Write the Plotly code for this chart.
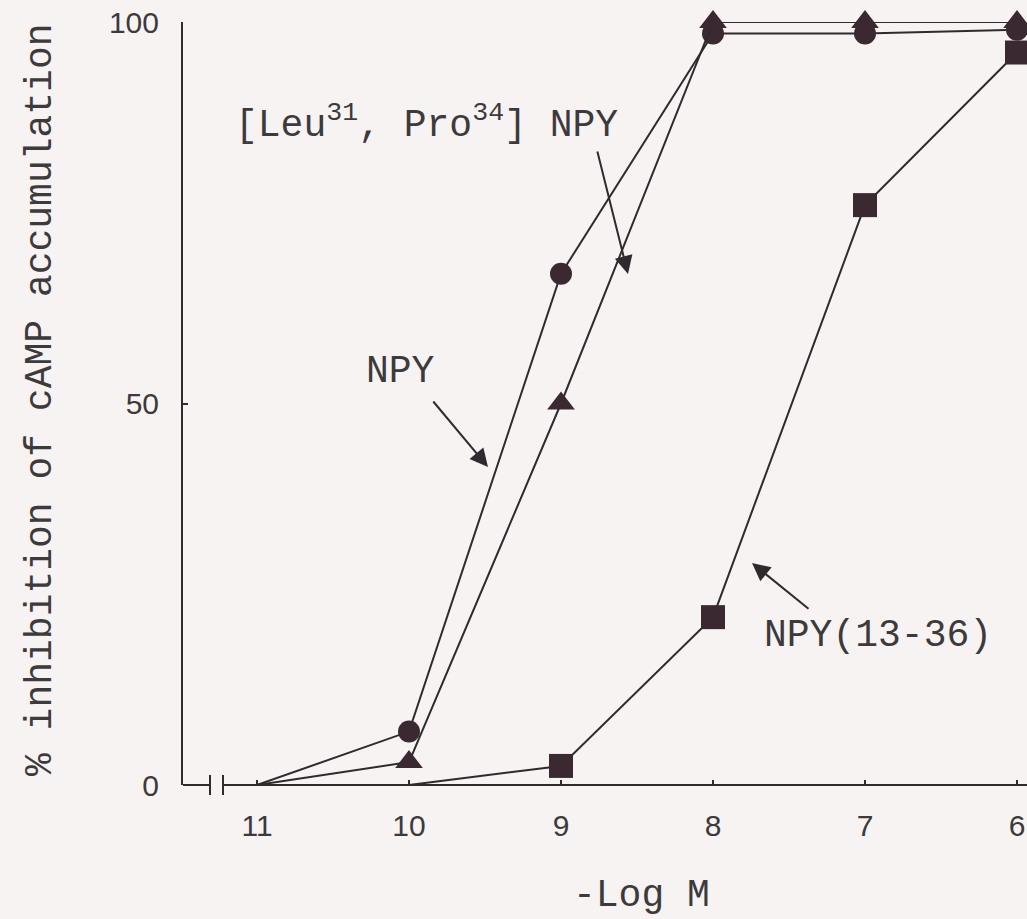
import plotly.graph_objects as go

# ---- data ----
log_m = [11, 10, 9, 8, 7, 6]
npy = [0, 7, 67, 98.5, 98.5, 99]
leu_pro_npy = [0, 3, 50, 100, 100, 100]
npy_13_36 = [0, 0, 2.5, 22, 76, 96]
x_tick_vals = [11, 10, 9, 8, 7, 6]
x_tick_text = ["11", "10", "9", "8", "7", "6"]
y_tick_vals = [0, 50, 100]
y_tick_text = ["0", "50", "100"]

# ---- geometry helpers (pixel -> data / paper for annotation placement) ----
W, H = 1027, 919
ML, MR, MT, MB = 183, 0, 22, 134
PW, PH = W - ML - MR, H - MT - MB
PX11, PXSTEP = 257, 152.0
Y0PIX, YSCALE = 785, 7.63


def xv(px):
    return 11 - (px - PX11) / PXSTEP


def yv(py):
    return (Y0PIX - py) / YSCALE


def xp(px):
    return (px - ML) / PW


def yp(py):
    return (H - MB - py) / PH


XR = [xv(ML), xv(W - MR)]

INK = "#2f2a2d"
MARK = "#3a2931"
TXT = "#3c3a3b"
BG = "#f7f3f3"
MONO = "Liberation Mono, Courier New, monospace"
SANS = "Liberation Sans, Arial, sans-serif"


def sizes(vals, s):
    # points lying on the baseline were drawn without a symbol
    return [0 if v == 0 else s for v in vals]


fig = go.Figure()
line_style = dict(color=INK, width=2)
for vals, sym, sz, nm in [
    (npy_13_36, "square", 24, "NPY(13-36)"),
    (npy, "circle", 22, "NPY"),
    (leu_pro_npy, "triangle-up", 24, "[Leu31, Pro34] NPY"),
]:
    fig.add_trace(go.Scatter(x=log_m, y=vals, mode="lines+markers", line=line_style,
                             marker=dict(symbol=sym, size=sizes(vals, sz), color=MARK,
                                         opacity=1, line=dict(width=0)),
                             cliponaxis=False, name=nm))

# x axis line with break (paper coords so nothing is clipped)
lw = dict(color=INK, width=2)
shapes = [
    dict(type="line", xref="paper", yref="paper", x0=0, x1=xp(210), y0=0, y1=0, line=lw),
    dict(type="line", xref="paper", yref="paper", x0=xp(223), x1=1, y0=0, y1=0, line=lw),
    dict(type="line", xref="paper", yref="paper", x0=xp(210), x1=xp(210),
         y0=yp(795), y1=yp(775), line=lw),
    dict(type="line", xref="paper", yref="paper", x0=xp(223), x1=xp(223),
         y0=yp(795), y1=yp(775), line=lw),
]

ann = []


def text(px, py, s, angle=0, yanchor="middle"):
    ann.append(dict(x=xp(px), y=yp(py), xref="paper", yref="paper", text=s, showarrow=False,
                    textangle=angle, font=dict(family=MONO, size=38, color=TXT),
                    xanchor="center", yanchor=yanchor, borderpad=0))


def arrow(tx, ty, hx, hy):
    ann.append(dict(x=xv(hx), y=yv(hy), ax=xv(tx), ay=yv(ty), xref="x", yref="y",
                    axref="x", ayref="y", text="", showarrow=True, arrowhead=2,
                    arrowsize=1.8, arrowwidth=2, arrowcolor=INK, standoff=0))


text(426, 122, "[Leu<sup>31</sup>, Pro<sup>34</sup>] NPY")
text(400, 371, "NPY")
text(878, 635, "NPY(13-36)")
text(641, 918, "-Log M", yanchor="bottom")
text(40, 400, "% inhibition of cAMP accumulation", angle=-90)
arrow(597, 150, 628, 274)
arrow(432, 400, 488, 467)
arrow(810, 610, 752, 563)

fig.update_layout(
    width=W, height=H,
    margin=dict(l=ML, r=MR, t=MT, b=MB, pad=0),
    paper_bgcolor=BG, plot_bgcolor=BG,
    showlegend=False,
    shapes=shapes,
    annotations=ann,
    xaxis=dict(range=XR, tickvals=x_tick_vals, ticktext=x_tick_text, showline=False,
               showgrid=False, zeroline=False, ticks="inside", ticklen=5, tickwidth=2,
               tickcolor=INK, tickfont=dict(family=SANS, size=30, color=TXT),
               ticklabelstandoff=20, automargin=False),
    yaxis=dict(range=[0, 100], tickvals=y_tick_vals, ticktext=y_tick_text, showline=True,
               linecolor=INK, linewidth=2, showgrid=False, zeroline=False, ticks="inside",
               ticklen=5, tickwidth=2, tickcolor=INK,
               tickfont=dict(family=SANS, size=30, color=TXT),
               ticklabelstandoff=16, automargin=False),
)

fig.write_html("out.html")
